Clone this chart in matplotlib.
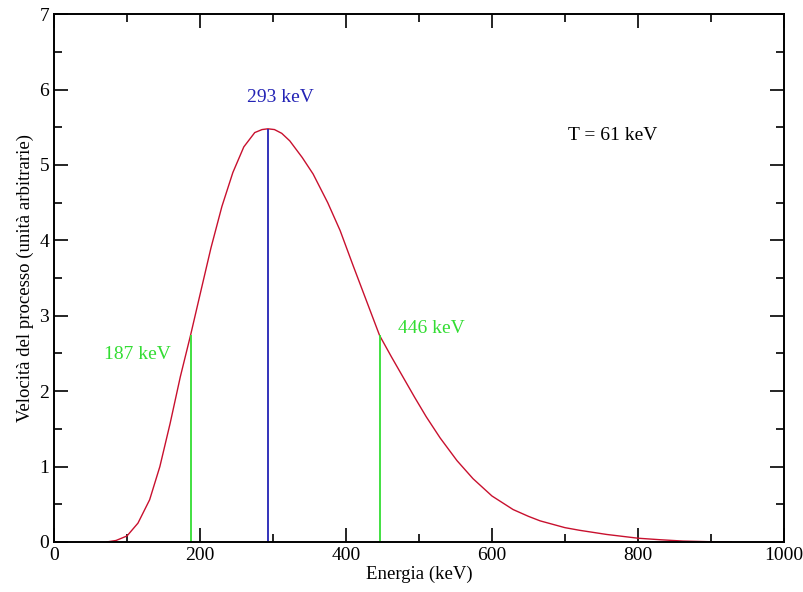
import matplotlib
matplotlib.use("Agg")
import matplotlib.pyplot as plt
from matplotlib.ticker import MultipleLocator

# Curve
energy = [72, 85, 100, 115, 131, 145, 159, 173, 187, 200, 215, 230, 245, 260, 275, 285, 293,
          302, 312, 323, 340, 355, 375, 392, 410, 428, 446, 462, 478, 494, 510, 529, 552,
          574, 600, 629, 650, 666, 700, 720, 757, 800, 830, 862, 900, 928]
rate = [0.0, 0.02, 0.08, 0.25, 0.56, 1.0, 1.57, 2.19, 2.74, 3.28, 3.90, 4.45, 4.90, 5.24, 5.43, 5.47, 5.48,
        5.47, 5.42, 5.32, 5.10, 4.88, 4.50, 4.13, 3.66, 3.20, 2.74, 2.46, 2.19, 1.92, 1.66, 1.38, 1.08,
        0.84, 0.61, 0.43, 0.34, 0.28, 0.19, 0.155, 0.10, 0.05, 0.03, 0.012, 0.003, 0.0]

peak_e, peak_v = 293, 5.48
half_e = [187, 446]
half_v = [2.74, 2.74]
peak_label = "293 keV"
half_labels = ["187 keV", "446 keV"]
temp_label = "T = 61 keV"

plt.rcParams['font.family'] = ['Liberation Serif', 'DejaVu Serif']

fig = plt.figure(figsize=(8.04, 5.92), dpi=100)
ax = fig.add_axes([0.0672, 0.0845, 0.9078, 0.8915])

red = '#c8102e'
green = '#33dd33'
blue = '#2323b5'

ax.plot(energy, rate, color=red, lw=1.0)
ax.vlines(peak_e, 0, peak_v, color=blue, lw=1.3)
ax.vlines(half_e, 0, half_v, color=green, lw=1.3)

ax.text(310, 5.89, peak_label, color=blue, fontsize=14, ha='center', va='center')
ax.text(160, 2.48, half_labels[0], color=green, fontsize=14, ha='right', va='center')
ax.text(471, 2.83, half_labels[1], color=green, fontsize=14, ha='left', va='center')
ax.text(704, 5.39, temp_label, color='black', fontsize=14, ha='left', va='center')

ax.set_xlim(0, 1000)
ax.set_ylim(0, 7)
ax.xaxis.set_major_locator(MultipleLocator(200))
ax.xaxis.set_minor_locator(MultipleLocator(100))
ax.yaxis.set_major_locator(MultipleLocator(1))
ax.yaxis.set_minor_locator(MultipleLocator(0.5))
ax.tick_params(which='both', direction='in', top=True, right=True, labelsize=14, width=1.2)
ax.tick_params(which='major', length=10)
ax.tick_params(which='minor', length=6)
for s in ax.spines.values():
    s.set_linewidth(1.4)

ax.set_xlabel("Energia (keV)", fontsize=13.5, labelpad=1)
ax.set_ylabel("Velocità del processo (unità arbitrarie)", fontsize=13.5, labelpad=4)

fig.savefig("out.png", dpi=100)
